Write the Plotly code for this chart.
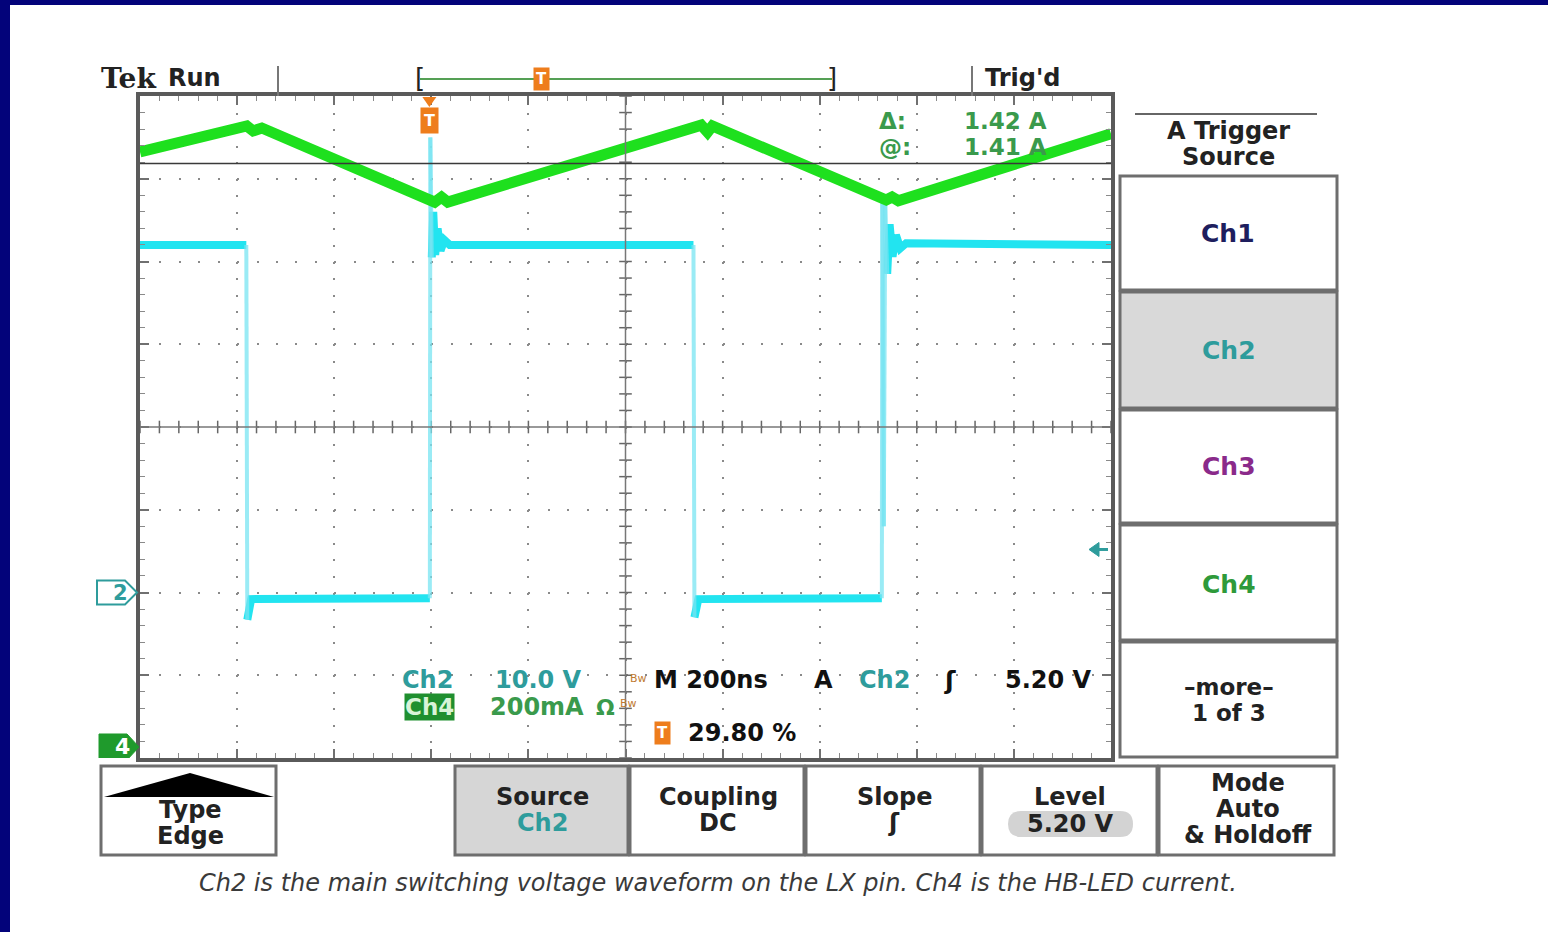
import plotly.graph_objects as go

# ---------------- scope settings ----------------
TIME_PER_DIV_NS = 200
H_DIVS = 10
V_DIVS = 8
CH2_VOLTS_PER_DIV = 10.0
CH4_AMPS_PER_DIV = 0.2
CH2_GROUND_DIV = 2.0      # ground marker "2", divisions above bottom
CH4_GROUND_DIV = 0.133    # ground marker "4", divisions above bottom
TRIGGER_POS_PCT = 29.80
TRIGGER_LEVEL_V = 5.20
CURSOR_DELTA_A = 1.42
CURSOR_AT_A = 1.41

# ---------------- waveforms ----------------
# Ch2: LX switching node voltage (V) vs time from left edge of screen (ns)
ch2_t_ns = [0, 219, 221, 224, 229, 597, 598, 601, 604, 608, 613, 619, 627, 638,
            1140, 1142, 1145, 1150, 1528, 1529, 1532, 1535, 1539, 1544, 1550,
            1557, 1566, 1578, 2000]
ch2_v = [42.0, 42.0, -3.3, -1.4, -0.8, -0.7, 55.0, 40.5, 46.0, 40.8, 44.0, 41.3,
         42.6, 42.0, 42.0, -3.0, -1.3, -0.8, -0.7, 48.0, 8.0, 47.0, 38.5, 44.5,
         40.6, 43.2, 41.6, 42.2, 42.0]

# Ch4: HB-LED current (A)
ch4_t_ns = [0, 220, 233, 251, 607, 621, 634, 1156, 1169, 1179, 1537, 1549, 1562, 2000]
ch4_a = [1.438, 1.501, 1.489, 1.496, 1.317, 1.329, 1.317, 1.503, 1.486, 1.501,
         1.322, 1.329, 1.320, 1.482]

EDGE_THRESHOLD_V = 7.0

# ---------------- page geometry ----------------
W, H = 1548, 932
L, R, T, B = 140, 1111, 96, 758


def px(x):
    return (x - L) / (R - L)


def py(y):
    return (B - y) / (B - T)


SCOPE = "DejaVu Sans"
TEAL = "#2e9c9c"
GREEN_TXT = "#3a9a4c"
CYAN = "#22e4f0"
GREEN = "#1ee01e"
ORANGE = "#ee7d1c"
FRAME = "#5a5a5a"

x_range = [0, TIME_PER_DIV_NS * H_DIVS]
y_range = [-CH2_GROUND_DIV * CH2_VOLTS_PER_DIV, (V_DIVS - CH2_GROUND_DIV) * CH2_VOLTS_PER_DIV]
y2_range = [-CH4_GROUND_DIV * CH4_AMPS_PER_DIV, (V_DIVS - CH4_GROUND_DIV) * CH4_AMPS_PER_DIV]

# split Ch2 into bright plateaus and faint fast edges
bx, by = [ch2_t_ns[0]], [ch2_v[0]]
ex, ey = [], []
for i in range(len(ch2_t_ns) - 1):
    if abs(ch2_v[i + 1] - ch2_v[i]) > EDGE_THRESHOLD_V:
        ex += [ch2_t_ns[i], ch2_t_ns[i + 1], None]
        ey += [ch2_v[i], ch2_v[i + 1], None]
        bx.append(None)
        by.append(None)
    bx.append(ch2_t_ns[i + 1])
    by.append(ch2_v[i + 1])

fig = go.Figure()

# centre graticule ticks
cx = (x_range[0] + x_range[1]) / 2
cy = (y_range[0] + y_range[1]) / 2
minor_t = [x_range[0] + k * TIME_PER_DIV_NS / 5 for k in range(H_DIVS * 5 + 1)]
minor_v = [y_range[0] + k * CH2_VOLTS_PER_DIV / 5 for k in range(V_DIVS * 5 + 1)]
fig.add_trace(go.Scatter(x=minor_t, y=[cy] * len(minor_t), mode="markers",
                         marker=dict(symbol="line-ns", size=9, line=dict(width=1.5, color="#666")),
                         hoverinfo="skip", showlegend=False))
fig.add_trace(go.Scatter(x=[cx] * len(minor_v), y=minor_v, mode="markers",
                         marker=dict(symbol="line-ew", size=9, line=dict(width=1.5, color="#666")),
                         hoverinfo="skip", showlegend=False))

# Ch4 current
fig.add_trace(go.Scatter(x=ch4_t_ns, y=ch4_a, yaxis="y2", mode="lines",
                         line=dict(color=GREEN, width=11), name="Ch4", showlegend=False))
# Ch2 voltage
fig.add_trace(go.Scatter(x=bx, y=by, mode="lines", line=dict(color=CYAN, width=8),
                         name="Ch2", showlegend=False, connectgaps=False))
fig.add_trace(go.Scatter(x=ex, y=ey, mode="lines",
                         line=dict(color="rgba(120,228,242,0.75)", width=4),
                         name="Ch2 edges", showlegend=False, connectgaps=False))

shapes = []
# navy frame of the slide
shapes.append(dict(type="rect", xref="paper", yref="paper", x0=px(0), x1=px(10), y0=py(0), y1=py(H),
                   fillcolor="#03037a", line=dict(width=0), layer="below"))
shapes.append(dict(type="rect", xref="paper", yref="paper", x0=px(0), x1=px(W), y0=py(0), y1=py(5),
                   fillcolor="#03037a", line=dict(width=0), layer="below"))
# centre cross lines
shapes.append(dict(type="line", xref="x", yref="paper", x0=cx, x1=cx, y0=0, y1=1,
                   line=dict(color="#777", width=1.5)))
shapes.append(dict(type="line", xref="paper", yref="y", x0=0, x1=1, y0=cy, y1=cy,
                   line=dict(color="#777", width=1.5)))
# cursor line (@ 1.41 A)
shapes.append(dict(type="line", xref="paper", yref="y2", x0=0, x1=1, y0=CURSOR_AT_A, y1=CURSOR_AT_A,
                   line=dict(color="#3a3a3a", width=1.5)))

# header lines
for xx in (278, 972):
    shapes.append(dict(type="line", xref="paper", yref="paper", x0=px(xx), x1=px(xx), y0=py(66), y1=py(96),
                       line=dict(color="#777", width=2)))
shapes.append(dict(type="line", xref="paper", yref="paper", x0=px(420), x1=px(832), y0=py(79), y1=py(79),
                   line=dict(color="#55a055", width=2)))
shapes.append(dict(type="line", xref="paper", yref="paper", x0=px(1135), x1=px(1317), y0=py(114), y1=py(114),
                   line=dict(color="#666", width=2)))

# trigger position marker triangle at top edge
trig_t = x_range[0] + TRIGGER_POS_PCT / 100 * (x_range[1] - x_range[0])
dx_tri = 7 / (R - L) * (x_range[1] - x_range[0])
shapes.append(dict(type="path", xref="x", yref="paper",
                   path=f"M {trig_t - dx_tri},{py(97)} L {trig_t + dx_tri},{py(97)} L {trig_t},{py(107)} Z",
                   fillcolor=ORANGE, line=dict(width=0)))

# trigger level arrow (at 5.20 V on Ch2 scale)
ha = 7 / (B - T) * (y_range[1] - y_range[0])
shapes.append(dict(type="path", xref="paper", yref="y",
                   path=(f"M {px(1089)},{TRIGGER_LEVEL_V} L {px(1099)},{TRIGGER_LEVEL_V + ha} "
                         f"L {px(1099)},{TRIGGER_LEVEL_V - ha} Z"),
                   fillcolor=TEAL, line=dict(color=TEAL, width=1)))
shapes.append(dict(type="line", xref="paper", yref="y", x0=px(1097), x1=px(1108),
                   y0=TRIGGER_LEVEL_V, y1=TRIGGER_LEVEL_V, line=dict(color=TEAL, width=3)))

# right panel buttons
panel = [(176, 290, "white"), (292, 408, "#d9d9d9"), (410, 523, "white"), (525, 640, "white"), (642, 757, "white")]
for y0, y1, fc in panel:
    shapes.append(dict(type="rect", xref="paper", yref="paper", x0=px(1120), x1=px(1337), y0=py(y1), y1=py(y0),
                       fillcolor=fc, line=dict(color="#6e6e6e", width=3)))
# bottom buttons
bottom = [(101, 276, "white"), (455, 628, "#d6d6d6"), (630, 804, "white"), (806, 980, "white"),
          (982, 1157, "white"), (1159, 1334, "white")]
for x0, x1, fc in bottom:
    shapes.append(dict(type="rect", xref="paper", yref="paper", x0=px(x0), x1=px(x1), y0=py(855), y1=py(766),
                       fillcolor=fc, line=dict(color="#6e6e6e", width=3)))
# Type button triangle
shapes.append(dict(type="path", xref="paper", yref="paper",
                   path=f"M {px(104)},{py(797)} L {px(190)},{py(773)} L {px(274)},{py(797)} Z",
                   fillcolor="black", line=dict(width=0)))


def pill(x0, x1, y0, y1):
    r = (y1 - y0) / 2
    ym = (y0 + y1) / 2
    return (f"M {px(x0 + r)},{py(y0)} L {px(x1 - r)},{py(y0)} Q {px(x1)},{py(y0)} {px(x1)},{py(ym)} "
            f"Q {px(x1)},{py(y1)} {px(x1 - r)},{py(y1)} L {px(x0 + r)},{py(y1)} "
            f"Q {px(x0)},{py(y1)} {px(x0)},{py(ym)} Q {px(x0)},{py(y0)} {px(x0 + r)},{py(y0)} Z")


shapes.append(dict(type="path", xref="paper", yref="paper", path=pill(1008, 1133, 811, 837),
                   fillcolor="#d3d3d3", line=dict(width=0)))

# ground markers
hv2 = 12 / (B - T) * (y_range[1] - y_range[0])
shapes.append(dict(type="path", xref="paper", yref="y",
                   path=f"M {px(97)},{hv2} L {px(125)},{hv2} L {px(137)},0 L {px(125)},{-hv2} L {px(97)},{-hv2} Z",
                   fillcolor="white", line=dict(color=TEAL, width=2)))
hv4 = 13 / (B - T) * (y2_range[1] - y2_range[0])
shapes.append(dict(type="path", xref="paper", yref="y2",
                   path=f"M {px(99)},{hv4} L {px(127)},{hv4} L {px(139)},0 L {px(127)},{-hv4} L {px(99)},{-hv4} Z",
                   fillcolor="#1f9a2c", line=dict(color="#1f9a2c", width=1)))

ann = []


def txt(x, y, s, size=24, color="#111", bold=True, xanchor="center", family=SCOPE, **kw):
    d = dict(xref="paper", yref="paper", x=px(x), y=py(y), text=(f"<b>{s}</b>" if bold else s),
             showarrow=False, xanchor=xanchor, yanchor="middle",
             font=dict(family=family, size=size, color=color))
    d.update(kw)
    ann.append(d)


# header
txt(99, 79, "Tek", size=28, family="DejaVu Serif", xanchor="left", color="#222")
txt(166, 78, "Run", size=24, xanchor="left", color="#222")
txt(983, 78, "Trig'd", size=24, xanchor="left", color="#222")
txt(420, 78, "[", size=26, color="#222", bold=False)
txt(832, 78, "]", size=26, color="#222", bold=False)
txt(541, 79, "T", size=15, color="white", bgcolor=ORANGE, borderpad=2)

# trigger position marker inside screen
ann.append(dict(xref="x", yref="paper", x=trig_t, y=py(120), text="<b>T</b>", showarrow=False,
                xanchor="center", yanchor="middle", bgcolor=ORANGE, borderpad=3,
                font=dict(family=SCOPE, size=16, color="white")))

# cursor readouts
txt(877, 121, "Δ:", size=23, color=GREEN_TXT, xanchor="left")
txt(962, 121, f"{CURSOR_DELTA_A:.2f} A", size=23, color=GREEN_TXT, xanchor="left")
txt(877, 147, "@:", size=23, color=GREEN_TXT, xanchor="left")
txt(962, 147, f"{CURSOR_AT_A:.2f} A", size=23, color=GREEN_TXT, xanchor="left")

# ground marker labels
ann.append(dict(xref="paper", yref="y", x=px(111), y=0, text="<b>2</b>", showarrow=False,
                font=dict(family=SCOPE, size=21, color=TEAL)))
ann.append(dict(xref="paper", yref="y2", x=px(113), y=0, text="<b>4</b>", showarrow=False,
                font=dict(family=SCOPE, size=22, color="white")))

# bottom readouts inside screen
txt(400, 680, "Ch2", color=TEAL, xanchor="left")
txt(493, 680, f"{CH2_VOLTS_PER_DIV:.1f} V", color=TEAL, xanchor="left")
txt(628, 678, "Bw", size=11, color="#c07a30", xanchor="left", bold=False)
txt(652, 680, f"M {TIME_PER_DIV_NS}ns", color="#111", xanchor="left")
txt(812, 680, "A", color="#111", xanchor="left")
txt(857, 680, "Ch2", color=TEAL, xanchor="left")
txt(950, 680, "ʃ", color="#111", size=25)
txt(1003, 680, f"{TRIGGER_LEVEL_V:.2f} V", color="#111", xanchor="left")
txt(429, 707, "Ch4", color="#d8f4d8", bgcolor="#1f8f2f", borderpad=0, size=23)
txt(488, 707, f"{int(CH4_AMPS_PER_DIV * 1000)}mA", color=GREEN_TXT, xanchor="left")
txt(594, 707, "Ω", color=GREEN_TXT, xanchor="left", size=22)
txt(618, 703, "Bw", size=11, color="#c07a30", xanchor="left", bold=False)
txt(662, 733, "T", size=15, color="white", bgcolor=ORANGE, borderpad=2)
txt(686, 733, f"{TRIGGER_POS_PCT:.2f} %", color="#111", xanchor="left")

# right panel
txt(1228, 131, "A Trigger", size=24, color="#222")
txt(1228, 157, "Source", size=24, color="#222")
txt(1228, 233, "Ch1", size=25, color="#1e1e5e")
txt(1229, 350, "Ch2", size=25, color=TEAL)
txt(1229, 467, "Ch3", size=25, color="#8a2a8a")
txt(1229, 584, "Ch4", size=25, color="#2e9a3a")
txt(1229, 687, "–more–", size=23, color="#222")
txt(1229, 713, "1 of 3", size=23, color="#222")

# bottom buttons
BTN = 24
txt(190, 810, "Type", size=BTN, color="#222")
txt(190, 836, "Edge", size=BTN, color="#222")
txt(542, 797, "Source", size=BTN, color="#222")
txt(542, 823, "Ch2", size=BTN, color=TEAL)
txt(718, 797, "Coupling", size=BTN, color="#222")
txt(718, 823, "DC", size=BTN, color="#222")
txt(894, 797, "Slope", size=BTN, color="#222")
txt(894, 823, "ʃ", size=BTN, color="#222")
txt(1070, 797, "Level", size=BTN, color="#222")
txt(1070, 824, f"{TRIGGER_LEVEL_V:.2f} V", size=BTN, color="#222")
txt(1248, 783, "Mode", size=BTN, color="#222")
txt(1248, 809, "Auto", size=BTN, color="#222")
txt(1248, 835, "&amp; Holdoff", size=BTN, color="#222")

# caption
txt(718, 883, "<i>Ch2 is the main switching voltage waveform on the LX pin. Ch4 is the HB-LED current.</i>",
    size=24, color="#3a3a3a", bold=False, family="DejaVu Sans")

dot_v = (B - T) / (V_DIVS * 5)
dot_h = (R - L) / (H_DIVS * 5)

fig.update_layout(
    width=W, height=H, autosize=False,
    margin=dict(l=L, r=W - R, t=T, b=H - B, pad=0),
    paper_bgcolor="white", plot_bgcolor="white",
    showlegend=False,
    xaxis=dict(range=x_range, tick0=0, dtick=TIME_PER_DIV_NS, showgrid=True, gridcolor="#8a8a8a",
               gridwidth=2, griddash=f"2px,{dot_v - 2:.2f}px", zeroline=False, showline=True,
               linecolor=FRAME, linewidth=4, mirror="ticks", ticks="inside", ticklen=9,
               tickcolor="#707070", tickwidth=1.5, showticklabels=False, fixedrange=True,
               minor=dict(dtick=TIME_PER_DIV_NS / 5, tick0=0, ticks="inside", ticklen=5,
                          tickcolor="#8a8a8a", tickwidth=1.2, showgrid=False)),
    yaxis=dict(range=y_range, tick0=y_range[0], dtick=CH2_VOLTS_PER_DIV, showgrid=True, gridcolor="#8a8a8a",
               gridwidth=2, griddash=f"2px,{dot_h - 2:.2f}px", zeroline=False, showline=True,
               linecolor=FRAME, linewidth=4, mirror="ticks", ticks="inside", ticklen=9,
               tickcolor="#707070", tickwidth=1.5, showticklabels=False, fixedrange=True,
               minor=dict(dtick=CH2_VOLTS_PER_DIV / 5, tick0=y_range[0], ticks="inside", ticklen=5,
                          tickcolor="#8a8a8a", tickwidth=1.2, showgrid=False)),
    yaxis2=dict(range=y2_range, overlaying="y", visible=False, fixedrange=True),
    shapes=shapes,
    annotations=ann,
)

fig.write_html("out.html", config={"displayModeBar": False},
               post_script="document.body.style.margin='0px';document.body.style.overflow='hidden';")
